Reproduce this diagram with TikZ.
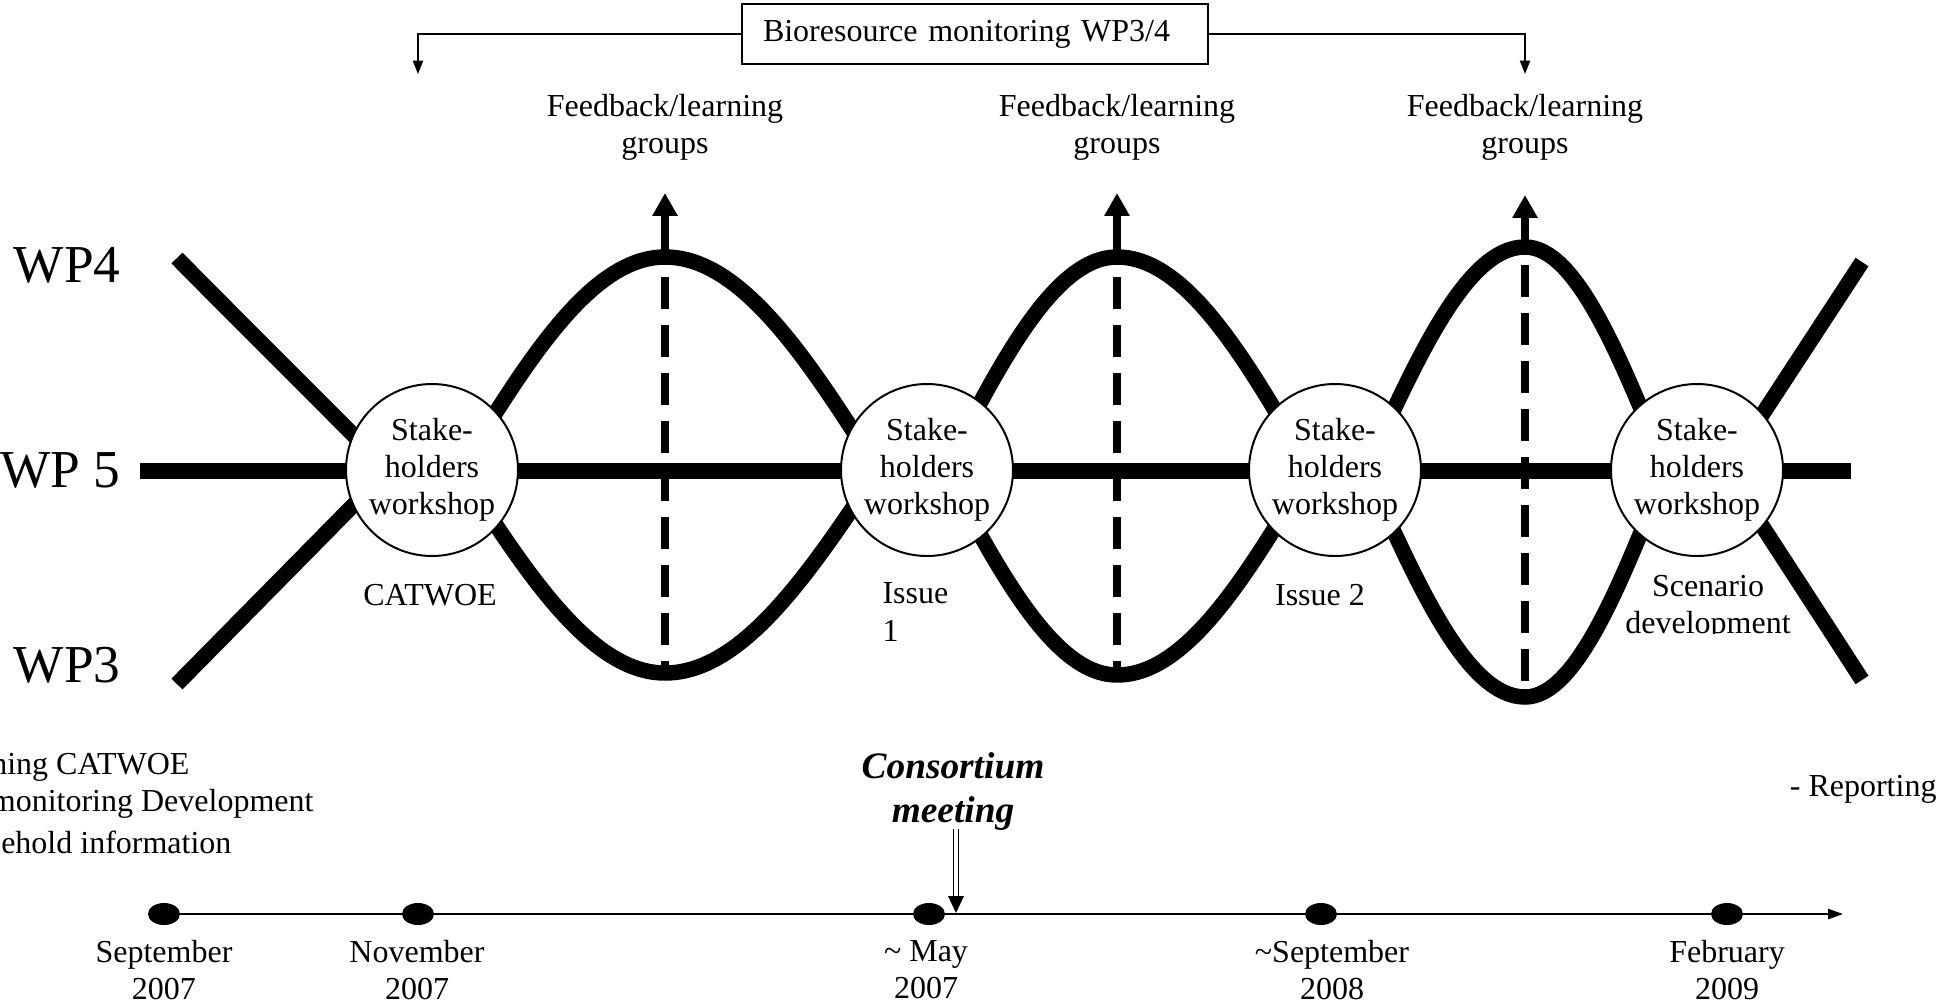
\documentclass[tikz,border=0pt]{standalone}
\usepackage{fontspec}
\setmainfont{Liberation Serif}
\usetikzlibrary{arrows.meta,shapes.geometric}
\tikzset{
 lbl/.style={font=\fontsize{12pt}{13.9pt}\selectfont, inner sep=0pt},
 wplbl/.style={font=\fontsize{20pt}{24pt}\selectfont, inner sep=0pt, anchor=east},
 wave/.style={line width=5.8pt},
 mainline/.style={line width=6pt},
 ws/.style={circle, draw, line width=0.75pt, fill=white, minimum size=64.5pt, inner sep=0pt, align=center, font=\fontsize{12pt}{13.9pt}\selectfont},
 dashv/.style={line width=3.2pt, dash pattern=on 12pt off 6pt},
 uparrow/.style={line width=3.2pt, -{Triangle[length=8.6pt,width=9pt]}},
 thinarrow/.style={line width=0.6pt, -{Triangle[length=5pt,width=3.8pt]}},
 tlline/.style={line width=0.75pt, -{Triangle[length=5.6pt,width=3.8pt]}},
 dot/.style={ellipse, fill, minimum width=12pt, minimum height=8.25pt, inner sep=0pt},
 biobox/.style={draw, line width=0.75pt, minimum height=22.5pt, text width=159pt, inner xsep=7.9pt, inner ysep=0pt, align=left, font=\fontsize{12pt}{13.9pt}\selectfont},
 cmlbl/.style={font=\fontsize{14pt}{16.5pt}\selectfont\bfseries\itshape, inner sep=0pt, align=center}
}
\begin{document}
\begin{tikzpicture}[x=0.375pt,y=-0.375pt]
\useasboundingbox (0,0) rectangle (1939,1005);

% key points of the waves
\coordinate (s4) at (177,258);
\coordinate (s3) at (177,684);
\coordinate (l1) at (388,470); \coordinate (r1) at (460,470);
\coordinate (l2) at (878,470); \coordinate (r2) at (945,470);
\coordinate (l3) at (1310,470); \coordinate (r3) at (1366,470);
\coordinate (l4) at (1666,470); \coordinate (r4) at (1726,470);
\coordinate (p1) at (665,257); \coordinate (p2) at (1117,257); \coordinate (p3) at (1525,247);
\coordinate (t1) at (665,673); \coordinate (t2) at (1117,675); \coordinate (t3) at (1525,697);
\coordinate (e4) at (1862,262); \coordinate (e3) at (1862,680);

% WP4 wave
\draw[wave] (s4) .. controls (247,329) and (318,399) .. (l1) -- (r1)
 .. controls (527,361) and (591,257) .. (p1)
 .. controls (742,257) and (809,361) .. (l2) -- (r2)
 .. controls (1001,361) and (1055,257) .. (p2)
 .. controls (1187,257) and (1247,361) .. (l3) -- (r3)
 .. controls (1418,356) and (1467,247) .. (p3)
 .. controls (1576,247) and (1620,356) .. (l4) -- (r4)
 .. controls (1771,401) and (1817,331) .. (e4);

% WP3 wave
\draw[wave] (s3) .. controls (247,613) and (318,541) .. (l1) -- (r1)
 .. controls (527,574) and (591,673) .. (t1)
 .. controls (742,673) and (809,574) .. (l2) -- (r2)
 .. controls (1001,575) and (1055,675) .. (t2)
 .. controls (1187,675) and (1247,575) .. (l3) -- (r3)
 .. controls (1418,586) and (1467,697) .. (t3)
 .. controls (1576,697) and (1620,586) .. (l4) -- (r4)
 .. controls (1771,540) and (1817,610) .. (e3);

% WP5 line
\coordinate (w5s) at (140,471);
\coordinate (w5e) at (1851,471);
\draw[mainline] (w5s) -- (w5e);

% dashed verticals
\coordinate (d1a) at (665,277); \coordinate (d1b) at (665,673);
\coordinate (d2a) at (1117,277); \coordinate (d2b) at (1117,675);
\coordinate (d3a) at (1525,265); \coordinate (d3b) at (1525,697);
\draw[dashv] (d1a) -- (d1b);
\draw[dashv] (d2a) -- (d2b);
\draw[dashv] (d3a) -- (d3b);

% up arrows
\coordinate (a1) at (665,193);
\coordinate (a2) at (1117,193);
\coordinate (a3) at (1525,195);
\draw[uparrow] (p1) -- (a1);
\draw[uparrow] (p2) -- (a2);
\draw[uparrow] (p3) -- (a3);

% feedback labels
\node[lbl, align=center] (f1) at (665,127) {Feedback/learning\\groups};
\node[lbl, align=center] (f2) at (1117,127) {Feedback/learning\\groups};
\node[lbl, align=center] (f3) at (1525,127) {Feedback/learning\\groups};

% workshops
\node[ws] (c1) at (432,470) {Stake-\\holders\\workshop};
\node[ws] (c2) at (927,470) {Stake-\\holders\\workshop};
\node[ws] (c3) at (1335,470) {Stake-\\holders\\workshop};
\node[ws] (c4) at (1697,470) {Stake-\\holders\\workshop};

% labels under workshops
\node[lbl] (catwoe) at (430,595) {CATWOE};
\node[lbl, align=left, anchor=west] (iss1) at (882,612) {Issue\\1};
\node[lbl] (iss2) at (1320,595) {Issue 2};
\begin{scope}
\clip (1590,560) rectangle (1830,633);
\node[lbl, align=center, anchor=north] (scen) at (1708,575) {Scenario\\development};
\end{scope}

% WP labels
\node[wplbl] (wp4) at (121,265) {WP4};
\node[wplbl] (wp5) at (121,470) {WP 5};
\node[wplbl] (wp3) at (121,665) {WP3};

% bioresource bracket
\node[biobox] (bio) at (975,34) {Bioresource monitoring WP3/4};
\coordinate (bl) at (418,74);
\coordinate (br) at (1525,74);
\draw[thinarrow] (bio.west) -| (bl);
\draw[thinarrow] (bio.east) -| (br);

% left bottom list (clipped at page edge)
\node[lbl, anchor=east] (li1) at (190,767) {ning CATWOE};
\node[lbl, anchor=east] (li2) at (314,804) {monitoring Development};
\node[lbl, anchor=east] (li3) at (232,842) {sehold information};
\node[lbl, anchor=east] (rep) at (1937,789) {- Reporting};

% consortium meeting
\node[cmlbl] (cm) at (953,792) {Consortium\\meeting};
\coordinate (cma) at (956,829);
\coordinate (cmb) at (956,898);
\coordinate (cmtip) at (956,913);
\draw[double, line width=0.45pt, double distance=1.5pt] (cma) -- (cmb);
\fill (cmtip) -- (948,896) -- (964,896) -- cycle;

% timeline
\coordinate (tls) at (164,914);
\coordinate (tle) at (1843,914);
\draw[tlline] (tls) -- (tle);
\node[dot] (dt1) at (164,914) {};
\node[dot] (dt2) at (418,914) {};
\node[dot] (dt3) at (929,914) {};
\node[dot] (dt4) at (1321,914) {};
\node[dot] (dt5) at (1727,914) {};

\node[lbl, align=center] (dl1) at (164,970) {September\\2007};
\node[lbl, align=center] (dl2) at (417,970) {November\\2007};
\node[lbl, align=center] (dl3) at (926,970) {\textasciitilde\ May\\2007};
\node[lbl, align=center] (dl4) at (1332,970) {\textasciitilde September\\2008};
\node[lbl, align=center] (dl5) at (1727,970) {February\\2009};
\end{tikzpicture}
\end{document}
